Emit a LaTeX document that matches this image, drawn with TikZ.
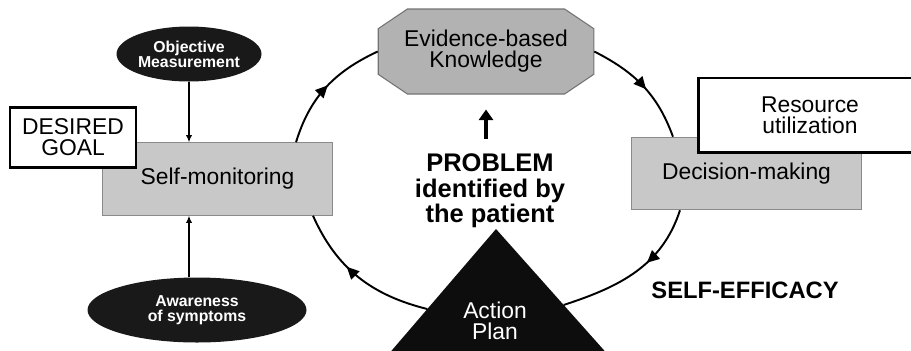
\documentclass[tikz,border=0pt]{standalone}
\usepackage{fontspec}
\setmainfont{Liberation Sans}
\usetikzlibrary{shapes.geometric, shapes.misc, arrows.meta, positioning, decorations.markings, calc}

\definecolor{boxgray}{HTML}{C8C8C8}
\definecolor{octgray}{HTML}{B2B2B2}
\definecolor{edgegray}{HTML}{8A8A8A}

\begin{document}
\begin{tikzpicture}[
    font=\fontsize{13}{12}\selectfont,
    graybox/.style={rectangle, draw=edgegray, fill=boxgray, line width=0.6pt, minimum width=4.6cm, minimum height=1.45cm},
    framebox/.style={rectangle, draw, fill=white, line width=1.7pt, align=center},
    blackoval/.style={ellipse, fill=black!90, text=white, font=\fontsize{9}{8.5}\selectfont\bfseries, align=center, inner sep=0pt},
    loopline/.style={line width=1.1pt, postaction={decorate}, decoration={markings, mark=at position #1 with {\arrow{Triangle[length=7pt,width=6.5pt]}}}},
    feed/.style={line width=0.7pt, -{Latex[length=4pt,width=3.5pt]}}
    ]
    \path[use as bounding box, clip] (0,0) rectangle (18.22,7);
    % the cycle
    \node[graybox] (selfmon) at (4.35,3.42) {Self-monitoring};
    \node[chamfered rectangle, chamfered rectangle angle=56, chamfered rectangle xsep=0.4cm, draw=black!55, fill=octgray, line width=0.6pt, minimum width=3.9cm, minimum height=1.7cm, align=center] (evidence) at (9.72,5.97) {Evidence-based\\Knowledge};
    \node[graybox] (decision) at (14.93,3.53) {Decision-making};
    \fill[black!95] (9.92,2.42) coordinate (apex) -- (7.8,-0.05) coordinate (baseL) -- (12.12,-0.05) coordinate (baseR) -- cycle;
    \node[text=white, align=center] (plan) at (9.9,0.58) {Action\\Plan};
    \coordinate (planL) at ($(apex)!0.648!(baseL)$);
    \coordinate (planR) at ($(apex)!0.615!(baseR)$);
    % side boxes
    \node[framebox, minimum width=2.52cm, minimum height=1.2cm] (goal) at (1.46,4.26) {DESIRED\\GOAL};
    \node[framebox, minimum width=4.48cm, minimum height=1.48cm] (resource) at (16.2,4.7) {Resource\\utilization};
    \node[blackoval, minimum width=2.9cm, minimum height=1.1cm] (objmeas) at (3.78,5.92) {Objective\\Measurement};
    \node[blackoval, minimum width=4.38cm, minimum height=1.3cm] (aware) at (3.94,0.8) {Awareness\\of symptoms};
    \node[font=\fontsize{14.5}{14.5}\selectfont\bfseries, align=center, inner sep=0pt] (problem) at (9.8,3.18) {PROBLEM\\identified by\\the patient};
    \node[font=\fontsize{13.5}{13}\selectfont\bfseries] (efficacy) at (14.9,1.2) {SELF-EFFICACY};
    % arcs
    \draw[loopline=0.52] ([xshift=-0.74cm]selfmon.north east) to[out=73, in=205] (evidence.west);
    \draw[loopline=0.54] (evidence.east) to[out=-27, in=110] ([xshift=0.84cm]decision.north west);
    \draw[loopline=0.4] ([xshift=0.98cm]decision.south west) to[out=-108, in=18] (planR);
    \draw[loopline=0.6] (planL) to[out=166, in=-66] ([xshift=-0.4cm]selfmon.south east);
    \draw[feed] (objmeas.south) -- (objmeas.south |- selfmon.north);
    \draw[feed] (aware.north -| objmeas.south) -- (objmeas.south |- selfmon.south);
    \draw[line width=2.2pt, -{Triangle[length=6pt,width=8pt]}, shorten <=0.3cm, shorten >=0.3cm] (evidence.south |- problem.north) -- (evidence.south);
\end{tikzpicture}
\end{document}
